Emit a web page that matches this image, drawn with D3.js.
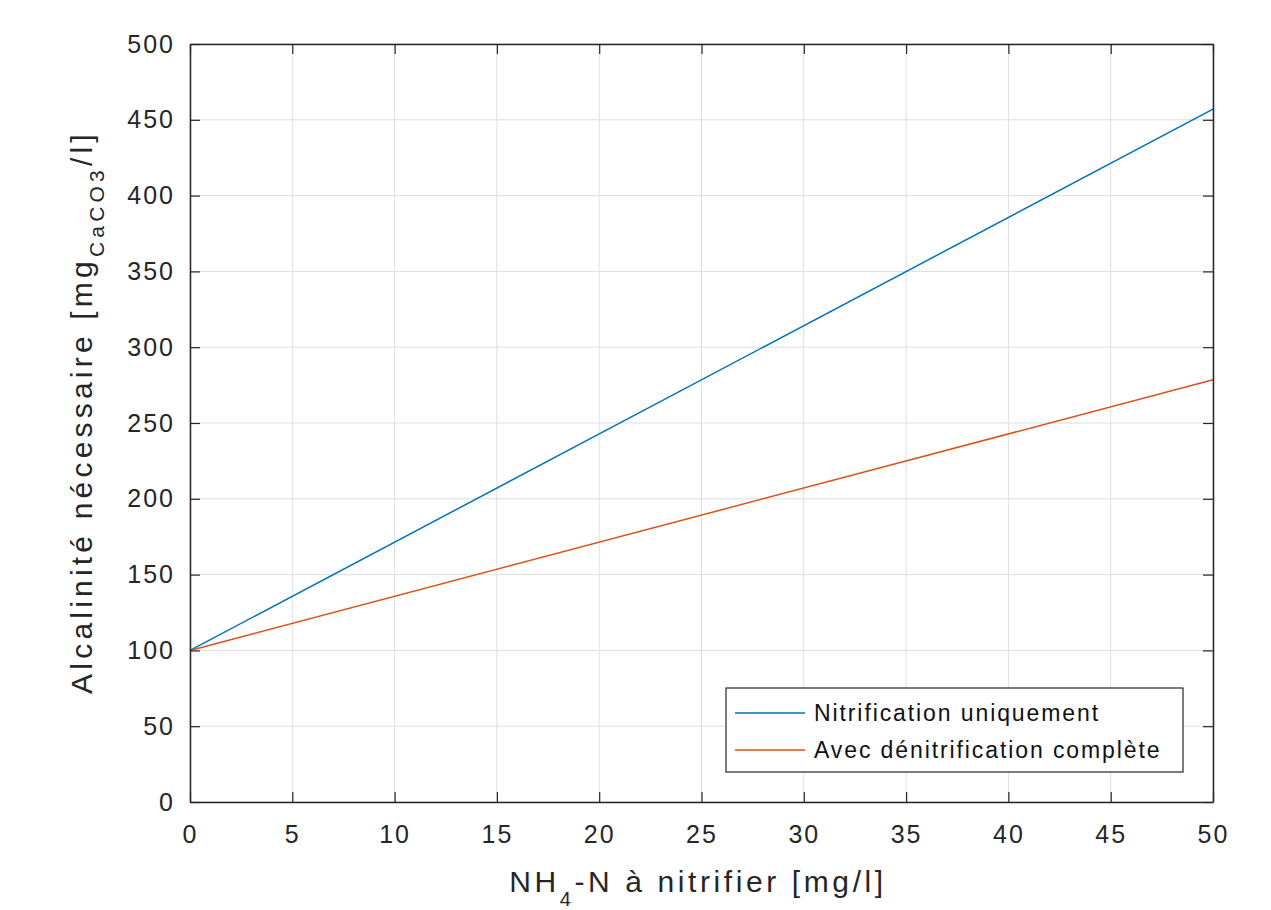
<!DOCTYPE html>
<html>
<head>
<meta charset="utf-8">
<script src="https://cdn.jsdelivr.net/npm/d3@7"></script>
<style>
  body { margin: 0; background: #fff; }
  text { font-family: "Liberation Sans", Arial, sans-serif; }
</style>
</head>
<body>
<svg id="chart" width="1271" height="910"></svg>
<script>
// data
var xValues = [0, 50];
var nitrification = [100, 457];
var denitrification = [100, 278.5];
var seriesNames = ['Nitrification uniquement', 'Avec dénitrification complète'];
var seriesColors = ['#0072bd', '#d95319'];
var xTicks = [0, 5, 10, 15, 20, 25, 30, 35, 40, 45, 50];
var yTicks = [0, 50, 100, 150, 200, 250, 300, 350, 400, 450, 500];

var margin = {left: 190, top: 44, right: 58, bottom: 108},
    W = 1271, H = 910,
    w = W - margin.left - margin.right,
    h = H - margin.top - margin.bottom;

var svg = d3.select('#chart');
var g = svg.append('g').attr('transform', 'translate(' + margin.left + ',' + margin.top + ')');

var x = d3.scaleLinear().domain([0, 50]).range([0, w]);
var y = d3.scaleLinear().domain([0, 500]).range([h, 0]);

// grid
g.append('g').selectAll('line').data(xTicks).enter().append('line')
  .attr('x1', function(d) { return x(d); }).attr('x2', function(d) { return x(d); })
  .attr('y1', 0).attr('y2', h)
  .attr('stroke', '#dfdfdf').attr('stroke-width', 1);
g.append('g').selectAll('line').data(yTicks).enter().append('line')
  .attr('y1', function(d) { return y(d); }).attr('y2', function(d) { return y(d); })
  .attr('x1', 0).attr('x2', w)
  .attr('stroke', '#dfdfdf').attr('stroke-width', 1);

// series
var line = d3.line().x(function(d) { return x(d[0]); }).y(function(d) { return y(d[1]); });
[nitrification, denitrification].forEach(function(vals, i) {
  g.append('path')
    .datum(xValues.map(function(v, j) { return [v, vals[j]]; }))
    .attr('d', line)
    .attr('fill', 'none')
    .attr('stroke', seriesColors[i])
    .attr('stroke-width', 1.5);
});

// axes, ticks inward (box like matlab)
function styleAxis(sel, hideText) {
  sel.select('.domain').attr('stroke', '#262626').attr('stroke-width', 1.5);
  sel.selectAll('.tick line').attr('stroke', '#262626').attr('stroke-width', 1.2);
  sel.selectAll('.tick text').attr('fill', '#262626').style('font-size', '25px')
    .style('letter-spacing', '2px')
    .style('font-family', '"Liberation Sans", Arial, sans-serif');
  if (hideText) sel.selectAll('.tick text').remove();
}
var xAxis = g.append('g').attr('transform', 'translate(0,' + h + ')')
  .call(d3.axisBottom(x).tickValues(xTicks).tickSizeInner(-10).tickSizeOuter(0).tickPadding(23));
styleAxis(xAxis);
var yAxis = g.append('g')
  .call(d3.axisLeft(y).tickValues(yTicks).tickSizeInner(-10).tickSizeOuter(0).tickPadding(15));
styleAxis(yAxis);
var xTop = g.append('g')
  .call(d3.axisTop(x).tickValues(xTicks).tickSizeInner(-10).tickSizeOuter(0));
styleAxis(xTop, true);
var yRight = g.append('g').attr('transform', 'translate(' + w + ',0)')
  .call(d3.axisRight(y).tickValues(yTicks).tickSizeInner(-10).tickSizeOuter(0));
styleAxis(yRight, true);

// axis labels
var xl = svg.append('text')
  .attr('x', 698).attr('y', 892)
  .attr('text-anchor', 'middle').attr('fill', '#262626')
  .style('font-size', '30px').style('letter-spacing', '3.6px');
xl.append('tspan').text('NH');
xl.append('tspan').attr('dy', 14).style('font-size', '20px').text('4');
xl.append('tspan').attr('dy', -14).text('-N à nitrifier [mg/l]');

var yl = svg.append('text')
  .attr('transform', 'translate(92,412) rotate(-90)')
  .attr('text-anchor', 'middle').attr('fill', '#262626')
  .style('font-size', '30px').style('letter-spacing', '4.2px');
yl.append('tspan').text('Alcalinité nécessaire [mg');
yl.append('tspan').attr('dy', 12).style('font-size', '21px').text('CaCO3');
yl.append('tspan').attr('dy', -12).text('/l]');

// legend
var lg = g.append('g').attr('transform', 'translate(' + (726 - margin.left) + ',' + (688 - margin.top) + ')');
lg.append('rect').attr('width', 457).attr('height', 84)
  .attr('fill', '#fff').attr('stroke', '#262626').attr('stroke-width', 1.2);
seriesNames.forEach(function(name, i) {
  var yy = 25 + i * 37;
  lg.append('line').attr('x1', 9).attr('x2', 79).attr('y1', yy).attr('y2', yy)
    .attr('stroke', seriesColors[i]).attr('stroke-width', 1.5);
  lg.append('text').attr('x', 88).attr('y', yy).attr('dy', '0.35em')
    .attr('fill', '#111').style('font-size', '23px').style('letter-spacing', '1.9px')
    .text(name);
});
</script>
</body>
</html>
